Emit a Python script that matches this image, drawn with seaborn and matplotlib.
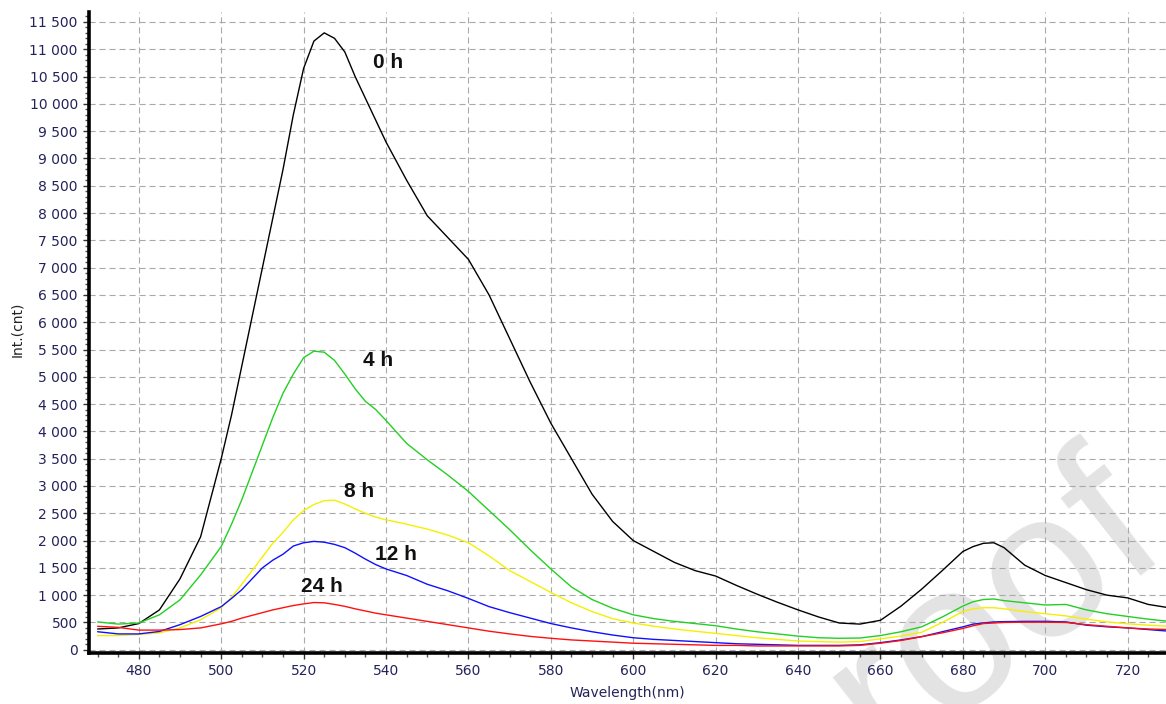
#data handling
import pandas as pd

#plotting
import seaborn as sns
import matplotlib
matplotlib.use("Agg")
import matplotlib.pyplot as plt
from matplotlib.ticker import MultipleLocator, FuncFormatter


#wavelength grid (nm), shared by all spectra
wavelength = [470, 475, 480, 485, 490, 495, 500, 502.5, 505, 507.5, 510, 512.5, 515, 517.5,
              520, 522.5, 525, 527.5, 530, 532.5, 535, 537.5, 540, 545, 550, 555, 560, 565,
              570, 575, 580, 585, 590, 595, 600, 605, 610, 615, 620, 625, 630, 635, 640, 645,
              650, 655, 660, 665, 670, 675, 680, 682.5, 685, 687.5, 690, 695, 700, 705, 710,
              715, 720, 725, 730]

#intensity (cnt) for each time point
int_0h = [380, 400, 480, 730, 1300, 2070, 3500, 4300, 5200, 6100, 7000, 7900, 8800, 9800,
          10650, 11150, 11300, 11200, 10950, 10500, 10100, 9700, 9300, 8600, 7950, 7550, 7150, 6500,
          5700, 4900, 4150, 3500, 2850, 2350, 2000, 1800, 1600, 1450, 1350, 1180, 1020, 870, 730, 600,
          490, 470, 540, 800, 1110, 1450, 1800, 1890, 1950, 1960, 1870, 1550, 1360, 1230, 1100,
          1000, 950, 830, 770]
int_4h = [510, 470, 490, 640, 915, 1370, 1890, 2300, 2750, 3250, 3750, 4250, 4700, 5050,
          5350, 5470, 5450, 5300, 5050, 4780, 4550, 4400, 4200, 3780, 3480, 3200, 2900, 2550,
          2200, 1830, 1480, 1150, 920, 760, 640, 570, 520, 480, 440, 380, 330, 290, 250, 220,
          210, 215, 260, 330, 420, 600, 800, 880, 920, 930, 900, 860, 820, 830, 730,
          660, 610, 560, 520]
int_8h = [260, 260, 280, 310, 400, 550, 770, 960, 1200, 1450, 1700, 1950, 2150, 2380,
          2550, 2660, 2730, 2740, 2670, 2580, 2500, 2430, 2380, 2300, 2210, 2100, 1960, 1720,
          1450, 1250, 1050, 860, 700, 570, 490, 430, 380, 340, 300, 260, 220, 190, 160, 150,
          140, 150, 200, 250, 320, 500, 700, 750, 770, 770, 750, 700, 660, 620, 560,
          510, 475, 450, 430]
int_12h = [330, 290, 290, 335, 460, 610, 790, 940, 1100, 1300, 1500, 1640, 1750, 1900,
           1960, 1985, 1970, 1930, 1870, 1770, 1660, 1560, 1480, 1360, 1200, 1080, 940, 790,
           680, 580, 480, 400, 330, 270, 220, 190, 170, 150, 130, 110, 100, 90, 80, 80,
           80, 90, 130, 180, 240, 330, 420, 470, 490, 510, 515, 520, 520, 510, 450,
           420, 400, 370, 340]
int_24h = [430, 410, 360, 360, 370, 400, 475, 520, 580, 630, 680, 730, 770, 810,
           840, 865, 860, 830, 795, 750, 710, 670, 640, 580, 520, 460, 400, 340,
           290, 245, 210, 180, 160, 140, 120, 110, 100, 90, 80, 80, 70, 70, 70, 70,
           70, 80, 120, 170, 240, 310, 390, 440, 480, 490, 500, 505, 505, 500, 460,
           430, 400, 380, 370]

series_names = ["0 h", "4 h", "8 h", "12 h", "24 h"]
series_values = [int_0h, int_4h, int_8h, int_12h, int_24h]
series_colors = ["#000000", "#22d022", "#f5f000", "#1010ff", "#ff1010"]

#label anchor positions (wavelength, intensity)
label_x = [540.5, 538, 533.5, 542.5, 524.5]
label_y = [10750, 5300, 2900, 1750, 1150]


#long table for seaborn
df = pd.concat([pd.DataFrame({"wavelength": wavelength, "intensity": v, "time": n})
                for n, v in zip(series_names, series_values)], ignore_index=True)

sns.set_style("white")
plt.rcParams["font.family"] = ["DejaVu Sans"]

fig = plt.figure(figsize=(11.66, 7.04), dpi=100)
ax = fig.add_axes([0.0763, 0.0724, 0.9237, 0.911])
ax.patch.set_alpha(0)

#watermark behind the plot (cut by the figure edge, as in the original)
fig.text(1.003, 0.232, "Pre-proof", rotation=38, rotation_mode="anchor", ha="right", va="baseline",
         fontsize=150, family="Liberation Sans", color="#e3e3e3", zorder=-5)

sns.lineplot(data=df, x="wavelength", y="intensity", hue="time", hue_order=series_names,
             palette=dict(zip(series_names, series_colors)), linewidth=1.0, legend=False,
             ax=ax, zorder=3)

#curve labels
for n, x, y in zip(series_names, label_x, label_y):
    ax.text(x, y, n, fontsize=15, fontweight="bold", family="Liberation Sans",
            ha="center", va="center", color="#111111", zorder=4)

#axes limits and ticks
ax.set_xlim(467.9, 729.3)
ax.set_ylim(-60, 11688)
ax.xaxis.set_major_locator(MultipleLocator(20))
ax.xaxis.set_minor_locator(MultipleLocator(5))
ax.yaxis.set_major_locator(MultipleLocator(500))
ax.yaxis.set_minor_locator(MultipleLocator(100))
ax.yaxis.set_major_formatter(FuncFormatter(lambda v, p: f"{int(round(v)):,}".replace(",", " ")))

ax.tick_params(which="major", direction="out", length=4, width=1, color="#333333",
               labelsize=10, labelcolor="#23235a", pad=4, left=True, bottom=True)
ax.tick_params(which="minor", direction="out", length=3, width=1, color="#555555",
               left=True, bottom=True)

#dashed grey grid
ax.grid(True, which="major", color="#a9a9a9", linestyle=(0, (5.5, 3.5)), linewidth=0.8, zorder=1)

#spines
for s in ["top", "right"]:
    ax.spines[s].set_visible(False)
for s in ["left", "bottom"]:
    ax.spines[s].set_linewidth(2.6)
    ax.spines[s].set_color("black")

#axis labels
ax.set_xlabel("Wavelength(nm)", fontsize=10, color="#23235a")
ax.set_ylabel("Int.(cnt)", fontsize=10, color="#222222")
ax.xaxis.set_label_coords(0.5, -0.052)
ax.yaxis.set_label_coords(-0.060, 0.504)

fig.savefig("out.png", dpi=100)
